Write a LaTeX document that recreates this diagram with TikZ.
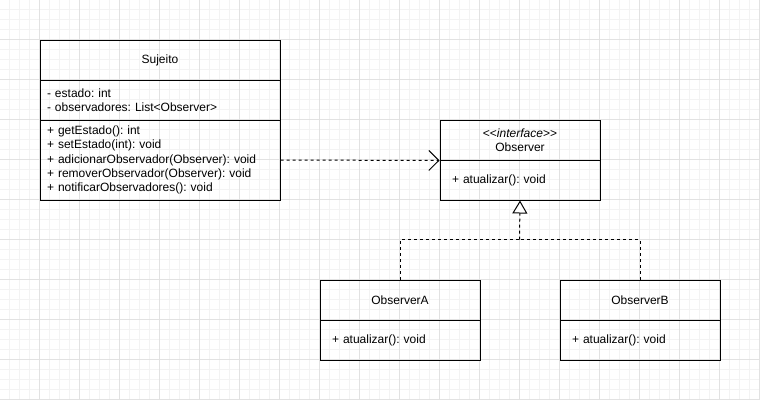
\documentclass[tikz,border=0pt]{standalone}
\usepackage{fontspec}
\setmainfont{Liberation Sans}
\usetikzlibrary{arrows.meta}
\frenchspacing
\definecolor{gridminor}{RGB}{243,243,243}
\definecolor{gridmajor}{RGB}{226,226,226}
\tikzset{
  comp/.style={draw, line width=1pt, rectangle, anchor=north west, inner ysep=0pt,
    font=\fontsize{12}{14.4}\selectfont},
  leftcomp/.style={comp, align=left, inner xsep=#1},
  conn/.style={draw, line width=1pt, dash pattern=on 3pt off 3pt},
}
\begin{document}
\begin{tikzpicture}[x=1pt,y=-1pt]
\useasboundingbox (0,0) rectangle (760,400);
\fill[white] (0,0) rectangle (760,400);
% grid
\foreach \x in {9.5,19.5,...,759.5} \draw[gridminor,line width=1pt] (\x,0) -- (\x,400);
\foreach \y in {9.5,19.5,...,399.5} \draw[gridminor,line width=1pt] (0,\y) -- (760,\y);
\foreach \x in {39.5,79.5,...,759.5} \draw[gridmajor,line width=1pt] (\x,0) -- (\x,400);
\foreach \y in {39.5,79.5,...,399.5} \draw[gridmajor,line width=1pt] (0,\y) -- (760,\y);

% Sujeito
\node[comp, minimum width=240pt, minimum height=40pt] (sujhead) at (39.5,39.5) {Sujeito};
\node[leftcomp=7pt, text width=226pt, minimum height=40pt] (sujattr) at (39.5,79.5)
  {- estado: int\\- observadores: List\textless Observer\textgreater};
\node[leftcomp=7pt, text width=226pt, minimum height=80pt] (sujmeth) at (39.5,119.5)
  {+ getEstado(): int\\+ setEstado(int): void\\+ adicionarObservador(Observer): void\\+ removerObservador(Observer): void\\+ notificarObservadores(): void};

% Observer
\node[comp, align=center, minimum width=160pt, minimum height=40pt] (obshead) at (439.5,119.5)
  {\hbox{<}\hbox{<}\textit{interface}\hbox{>}\hbox{>}\\Observer};
\node[leftcomp=12pt, text width=136pt, minimum height=40pt] (obsmeth) at (439.5,159.5)
  {+ atualizar(): void};

% ObserverA
\node[comp, minimum width=160pt, minimum height=40pt] (ahead) at (319.5,279.5) {ObserverA};
\node[leftcomp=12pt, text width=136pt, minimum height=40pt] (ameth) at (319.5,319.5)
  {+ atualizar(): void};

% ObserverB
\node[comp, minimum width=160pt, minimum height=40pt] (bhead) at (559.5,279.5) {ObserverB};
\node[leftcomp=12pt, text width=136pt, minimum height=40pt] (bmeth) at (559.5,319.5)
  {+ atualizar(): void};

% connectors
\draw[conn, -{Straight Barb[length=10pt,width=20pt]}] (sujmeth.east) -- (obshead.south west);
\coordinate (join) at (519.5,239.5);
\draw[conn] (ahead.north) |- (join);
\draw[conn] (bhead.north) |- (join);
\draw[conn, -{Triangle[length=13pt,width=15pt,fill=white]}] (join) -- (obsmeth.south);
\end{tikzpicture}
\end{document}
